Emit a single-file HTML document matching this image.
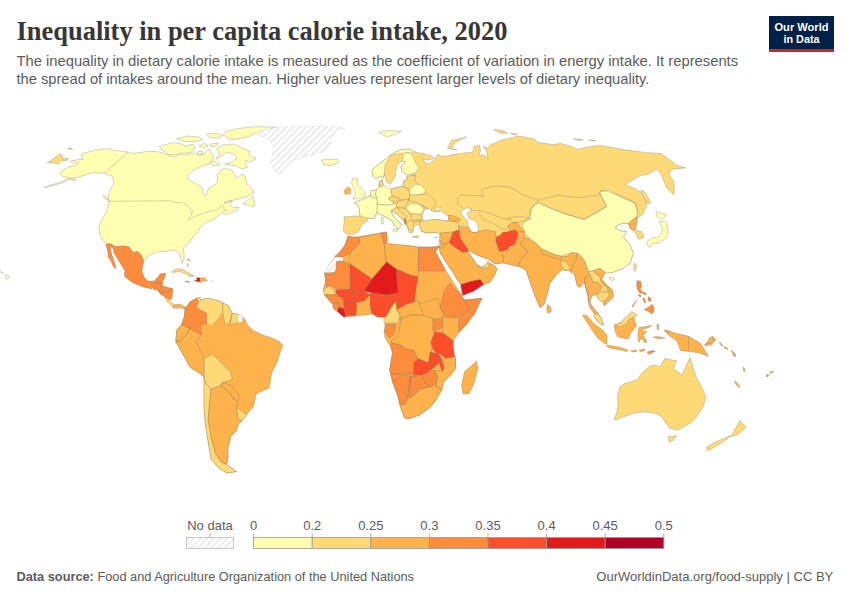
<!DOCTYPE html>
<html><head><meta charset="utf-8">
<style>
html,body{margin:0;padding:0;background:#fff;width:850px;height:600px;overflow:hidden}
svg{display:block}
text{font-family:"Liberation Sans",sans-serif}
</style></head><body>
<svg width="850" height="600" viewBox="0 0 850 600">
<defs>
<pattern id="hatch" patternUnits="userSpaceOnUse" width="4.7" height="4.7" patternTransform="rotate(45)">
<rect width="4.7" height="4.7" fill="#fff"/><rect width="2" height="4.7" fill="#ebebeb"/>
</pattern>
</defs>
<text x="16.5" y="40" font-family="Liberation Serif" font-weight="bold" font-size="27" fill="#373737" textLength="491" lengthAdjust="spacingAndGlyphs" style="font-family:'Liberation Serif',serif">Inequality in per capita calorie intake, 2020</text>
<text x="16.4" y="66" font-size="14.2" fill="#5b5b5b" textLength="721.7" lengthAdjust="spacingAndGlyphs">The inequality in dietary calorie intake is measured as the coefficient of variation in energy intake. It represents</text>
<text x="16.4" y="84.2" font-size="14.2" fill="#5b5b5b" textLength="633" lengthAdjust="spacingAndGlyphs">the spread of intakes around the mean. Higher values represent larger levels of dietary inequality.</text>
<rect x="769" y="16" width="65" height="36" fill="#002147"/>
<rect x="769" y="49" width="65" height="3" fill="#ce261e"/>
<text x="801.5" y="30.7" font-size="11.5" font-weight="bold" fill="#fff" text-anchor="middle" textLength="54" lengthAdjust="spacingAndGlyphs">Our World</text>
<text x="801.5" y="42.5" font-size="11.5" font-weight="bold" fill="#fff" text-anchor="middle" textLength="36" lengthAdjust="spacingAndGlyphs">in Data</text>
<g id="map" stroke="#6b6b6b" stroke-opacity="0.6" stroke-width="0.5" stroke-linejoin="round">
<path fill="#ffffb2" d="M81.2,154.8 L84.6,152.9 L95.9,150.1 L107.2,148.6 L112.8,150.1 L127.9,152 L132.6,153.5 L143,152 L150,151.1 L159.4,152 L167.9,154.8 L174.5,156.7 L180,154 L186,155 L193,153 L199,155 L204,154 L207,151 L209,149 L212,154 L214,157 L213,160 L209,164 L200,167 L192,171 L187,176 L189,180 L193,182 L200,186 L203,189 L203,194 L206,195 L209,188 L216,184 L218,180 L217,175 L221,170 L224,168.5 L232,170 L234,173 L236,178 L243,174 L245,176 L247,184 L252,189 L254,193 L246,197 L235,200 L228,201 L224,203 L232,201 L230,205 L233,208 L239,207 L237,210 L226,215 L223,212 L215,218 L214,220 L207,222 L200,228 L198.5,231.4 L192.9,237.1 L190,242 L183,248 L184,252 L184,260 L182,263.5 L181,260 L179,253 L175,250 L166.5,251.2 L157.1,252.1 L149.6,254.9 L144,261 L141,255 L138,251.5 L133,252.5 L129,247 L124,246 L115,246.5 L111,244 L106,244 L100.6,237.1 L98.8,227.6 L100.6,222 L106.3,212.6 L109.1,201.3 L108,196 L110.9,187.8 L113.8,184 L112.8,176.5 L107.2,174.6 L104.4,173.3 L94,172.7 L88.4,173.6 L80.8,176.5 L72.1,178.5 L58.3,184 L44.1,187.7 L45,187 L62.9,181.3 L70.3,177.6 L62.9,176.7 L60.2,173.9 L61.1,171.2 L67.5,167.5 L76.7,164.8 L78.5,162.9 L72.1,162.9 L70.3,161.1 L80.4,159.3 L83.1,159.7 L81.7,156.5Z"/>
<path fill="#ffffb2" d="M243,204 L250,198 L253,196 L254,202 L255,206 L252,207 L249,205Z"/>
<path fill="#ffffb2" d="M103,195 L107,198 L109,200.5 L105,199Z"/>
<path fill="#ffffb2" d="M159.4,146.4 L172.6,142.6 L180.1,143.5 L186,146 L193,144 L195,149 L190,153 L182,153 L176,154.5 L168.8,154.8 L161.3,149.2Z"/>
<path fill="#ffffb2" d="M217,148 L222,145 L234,144 L242,148 L250,151 L249,155 L256,158.5 L250,162 L246,160 L245,163 L248,167 L242,169 L236,166 L225,164 L232,162 L237,158 L234,154 L226,152 L220,157 L216,159 L220,154 L218,151Z"/>
<path fill="#ffffb2" d="M225.3,131.3 L238.5,128.5 L255.4,126.6 L277.1,127.2 L270.5,129.4 L255.4,133.2 L247.9,136.9 L238.5,138.8 L229.1,139.8 L225.3,136Z"/>
<path fill="#ffffb2" d="M206.5,134.1 L215.9,133.2 L223.4,135.1 L219.7,137.9 L210.2,137.9Z"/>
<path fill="#ffffb2" d="M176.4,138.8 L187.6,136 L198.9,136.9 L202.7,139.8 L195.2,141.6 L183.9,141.6Z"/>
<path fill="#ffffb2" d="M199,146 L205,143 L208,146 L204,148Z"/>
<path fill="#ffffb2" d="M210,144 L218,143 L216,146 L211,147Z"/>
<path fill="#ffffb2" d="M197,152 L202,151 L203,154 L199,155Z"/>
<path fill="#ffffb2" d="M209,163 L214,161 L220,165 L213,166Z"/>
<path fill="#fed976" d="M47.3,162.5 L51.9,159.7 L60.2,153.8 L62.9,156.1 L62,158.8 L67.5,158.3 L68,160.2 L62,160.6 L58.3,164.3 L53.8,162.9Z"/>
<path fill="url(#hatch)" stroke="#d0d0d0" d="M255.4,134.1 L262,130 L277.6,127.2 L299.5,126.2 L333.4,126.2 L345.4,128.4 L334.8,130.5 L333.4,136.8 L330.6,143.9 L322.1,152.4 L306.6,156.6 L292.5,160.8 L285.4,167.9 L281.2,173.5 L274.1,170.7 L270.6,160.8 L273.4,150.9 L272.4,144.5 L265.6,137.9Z"/>
<path fill="#ffffb2" d="M321.4,160.1 L326.4,159.4 L337.7,159.4 L338.4,162.9 L330.6,165.8 L323.5,164.4Z"/>
<path fill="#fd8d3c" d="M106,244 L111,244 L115,246.5 L124,246 L129,247 L133,252.5 L138,251.5 L141,255 L144,261 L143,265 L142,271 L144,277 L148,281 L154,281 L158,277 L160,274 L166,273 L164,279 L162,283 L156,283 L154,286 L152,289 L143,287 L133,283 L125,277 L124,274 L125,271 L120,263 L117,258 L114,253 L113,248 L110,247 L111,251 L112,255 L115,264 L116,269 L113,266 L111,261 L108,257 L108,253 L106,245Z"/>
<path fill="#fed976" d="M162,280 L163.5,279.5 L163,285 L161.8,285.5Z"/>
<path fill="#fd8d3c" d="M156,283 L162,283 L162,286 L161,288 L158,290.5 L153.5,289.5 L154,286Z"/>
<path fill="#fd8d3c" d="M160.7,286 L162.6,286 L166.4,286.9 L172.9,288.8 L168.2,291.6 L162.6,292.6 L158.8,290.7 L160.7,287.9Z"/>
<path fill="#fd8d3c" d="M157.9,290.7 L158.8,290.7 L162.6,292.6 L160.7,294.5Z"/>
<path fill="#fd8d3c" d="M162.6,292.6 L168.2,291.6 L172.9,288.8 L172,298.2 L169.2,300.1 L164.5,296.4 L160.7,294.5Z"/>
<path fill="#fed976" d="M164.5,296.4 L169.2,300.1 L173.9,304.8 L172.9,307.6 L167.3,302Z"/>
<path fill="#feb24c" d="M173.9,304.8 L179.5,303.9 L185.2,306.7 L185.2,309.5 L180.5,307.6 L175.8,308.6 L172.9,307.6Z"/>
<path fill="#fed976" d="M171.5,272 L176,269 L182,269 L187,272 L190,274 L194.5,276 L190,277 L186,274 L180,271.5 L173,272.5Z"/>
<path fill="#e31a1c" d="M194,281 L197,280 L196.5,277.5 L200,278 L200,282 L197,281.5Z"/>
<path fill="#feb24c" d="M200,278 L204,277.5 L207.5,280.5 L204,281 L200.5,282.5 L200,282Z"/>
<path fill="#feb24c" d="M185,281 L189,281 L189.5,282.5 L186,282Z"/>
<path fill="url(#hatch)" stroke="#d0d0d0" d="M210,280.5 L214,281 L213.5,282 L210,282Z"/>
<path fill="#fed976" d="M186.5,259 L190,259.5 L190.5,261 L188,260Z"/>
<path fill="#fed976" d="M187,263.5 L188,264 L188.5,266.5 L187.5,266Z"/>
<path fill="#ffffb2" d="M70.3,179 L73,178.5 L76.5,180 L73,181Z"/>
<path fill="#fed976" d="M67.5,148.5 L71,148 L72.5,149 L69,149.5Z"/>
<path fill="#feb24c" d="M185.2,308.6 L189.9,302 L196.5,298.2 L200.2,297.3 L200.2,300.1 L207.8,298.2 L219.1,301.1 L222.8,302.9 L228.5,305.8 L232.2,313.3 L237.9,314.2 L243.5,317.1 L247.3,324.6 L252.9,330.2 L262.4,334.9 L271.8,337.8 L279.3,341.5 L283.2,345.7 L281.2,349.1 L277.6,361.2 L271.9,372.5 L269.1,388.1 L256.3,393.8 L253.5,406.5 L246.4,415 L242.2,420.7 L237.9,419.3 L235.1,416.4 L237.9,424.9 L236.5,430.6 L230.9,436.2 L228,447.6 L228,458.9 L226.6,464.5 L236.5,471.6 L226.6,473 L218.1,467.4 L211,458.9 L208.2,441.9 L205.4,424.9 L204,407.9 L204,390.9 L204,376.8 L198.3,372.5 L189.8,366.9 L181.3,351.3 L175.7,341.4 L175.8,339.6 L176.7,330.2 L181.4,324.6 L184.2,317.1Z"/>
<path fill="#fd8d3c" d="M185.2,308.6 L189.9,302 L196.5,298.2 L198.4,301.1 L196.5,307.6 L206.8,313.3 L206.8,322.7 L200.2,326.5 L202.1,334.9 L196.5,332.1 L189.9,328.4 L181.4,324.6 L184.2,317.1Z"/>
<path fill="#fed976" d="M196.5,298.2 L200.2,297.3 L200.2,300.1 L207.8,298.2 L219.1,301.1 L222.8,302.9 L222.8,312.4 L215.3,322.7 L210.6,326.5 L206.8,322.7 L206.8,313.3 L196.5,307.6 L198.4,301.1Z"/>
<path fill="#fed976" d="M222.8,302.9 L228.5,305.8 L232.2,313.3 L228.5,324.6 L224.7,322.7 L222.8,312.4Z"/>
<path fill="#fed976" d="M232.2,313.3 L237.9,314.2 L237.9,322.7 L230.4,324.6Z"/>
<path fill="url(#hatch)" stroke="#d0d0d0" d="M237.9,314.2 L243.5,317.1 L241.5,322 L237.9,322.7Z"/>
<path fill="#feb24c" d="M181.4,324.6 L189.9,328.4 L187.1,334 L180.5,341.5 L175.8,339.6 L176.7,330.2Z"/>
<path fill="#fed976" d="M204,358.4 L212.5,354.2 L221,362.6 L230.9,372.5 L232.3,379.6 L222.4,382.5 L221,385.3 L211,389.5 L205.4,382.5 L204,376.8Z"/>
<path fill="#fed976" d="M204,376.8 L205.4,382.5 L211,389.5 L209.6,402.3 L208.2,419.3 L211,436.2 L215.3,453.2 L221,461.7 L226.6,464.5 L236.5,471.6 L226.6,473 L218.1,467.4 L211,458.9 L208.2,441.9 L205.4,424.9 L204,407.9 L204,390.9Z"/>
<path fill="#feb24c" d="M221,385.3 L222.4,382.5 L230.9,385.3 L239.3,395.2 L237.9,400.9 L233.7,399.4 L229.4,392.4Z"/>
<path fill="#fed976" d="M236.5,407.9 L242.2,410.8 L246.4,415 L242.2,420.7 L237.9,419.3Z"/>
<path fill="#feb24c" d="M211,389.5 L221,385.3 L229.4,392.4 L233.7,399.4 L237.9,400.9 L236.5,407.9 L237.9,419.3 L242.2,420.7 L237.9,424.9 L236.5,430.6 L230.9,436.2 L228,447.6 L228,458.9 L226.6,464.5 L221,461.7 L215.3,453.2 L211,436.2 L208.2,419.3 L209.6,402.3Z"/>
<path fill="#fed976" d="M371.9,170.4 L375.6,166.6 L382.2,161.9 L388.8,156.3 L396.4,151.6 L402.9,149.2 L409.5,149.2 L414.2,151.6 L417.1,152.5 L422.7,153.5 L430.2,155.4 L434,158.2 L428.4,160.1 L422.7,159.1 L425.5,162.9 L428.4,163.8 L432.1,161.9 L434.9,159.1 L437.8,154.4 L441.5,156.3 L445.3,156.3 L450,155.4 L451.3,154.8 L464.5,152.9 L472.9,152 L473.9,146.4 L479.5,145.4 L480.5,151.1 L478.6,154.8 L485.2,155.8 L488,159.5 L487.1,152 L483.3,146.4 L487.1,148.2 L490.8,144.5 L496.5,142.6 L502.1,139.8 L511.5,137.9 L517.2,136 L524.7,136.9 L534.1,138.8 L537.9,142.6 L552.9,144.5 L560.5,143.5 L571.8,146.4 L577.4,149.2 L590.6,146.4 L600,145.4 L624.9,149.8 L645.6,152.4 L661.2,153.6 L676.7,165.3 L685.7,167.9 L671.5,169.2 L668.9,174.3 L674.1,182.1 L674.1,195.1 L666.3,187.3 L661.2,174.3 L656,169.2 L648.2,174.3 L640.5,175.6 L624.9,184.7 L635.3,188.6 L645,196 L647,204 L643.3,214 L637.5,217.5 L636.7,223.3 L635,230 L641.7,231.7 L644.2,237.5 L638.3,239.2 L635.8,233.3 L630,228.3 L628.3,223.3 L621.7,223.3 L615,227.5 L620,230.8 L626.7,231.7 L623.3,236.7 L630,245 L633.3,253.3 L630,263.3 L623.3,268.3 L615,271.7 L607.1,273.2 L605,272.5 L601.7,279.2 L607.5,285.8 L612.5,290 L613.3,296.7 L608.3,301.7 L604.2,305.8 L603.3,302.5 L602.5,301.7 L599.2,300 L597.5,297.5 L597.5,294.2 L595,295 L592.5,295 L590.8,298.3 L590,302.5 L591.7,305.8 L595,310 L598.3,313.3 L598.8,314.4 L601.2,317.9 L603.5,325 L601.2,324.4 L596.5,320.3 L594.1,316.8 L594.2,313.3 L590,307.5 L588.3,301.7 L588.3,297 L584.4,281.7 L580.2,287.3 L577.3,285.9 L574.5,274.6 L571.7,273.2 L568.8,270.3 L564.6,270.3 L562.6,268.8 L555.1,276.4 L549.4,283.9 L547.5,293.3 L543.8,304.6 L540,307.4 L535,296 L530,282 L526,270 L520.2,267 L518.4,266.6 L503.3,262.8 L495,263.8 L488.9,259.5 L477,255 L469.4,250.8 L468.3,251.9 L472.7,258.4 L477,264.9 L481.3,267.6 L485.7,265.5 L487.8,261.7 L490,263.3 L495,266 L497,269 L494.3,275.8 L490,282.3 L483.5,284.4 L473.8,290.9 L462.9,295.3 L461.8,292 L460.8,284.4 L457.5,280.1 L453.2,272.5 L445.6,261.7 L440.2,253 L439.1,246.5 L439,240 L440,233 L435,232.3 L427.5,233 L421.5,231.5 L420,227.8 L420,224 L415.5,225.5 L412.5,228.5 L413.3,232.3 L409.5,233 L407.3,227 L406,223 L404,221 L400,217 L396,213 L391,211 L393,216 L399,222 L402,224 L400,227 L398,229 L395,226 L392,221 L386,217 L382,215 L379,214 L377,212 L374.2,218.8 L366.7,217.9 L367.6,220.7 L362,224.5 L358.2,232 L352.6,234.8 L346.9,233.9 L343.2,231.1 L344.1,222.6 L344.1,216.9 L354.5,216 L360.1,216 L359.2,208.5 L357.3,204.7 L354.5,202.8 L365.8,198.1 L370,196 L371,191 L376,190 L379,187 L378.9,185.5 L379.4,181.7 L382.2,179.8 L383.2,184.5 L381.3,186.4 L386,188.3 L391,189 L399,187 L402.9,186.4 L403.9,180.8 L407.6,178.9 L406.7,176.1 L407.6,177 L416.1,175.1 L415.2,174.2 L407.6,175.1 L402,171.4 L401.1,166.6 L404.8,162.9 L405.8,161.9 L402,161 L397.3,164.8 L395.4,171.4 L395.4,176.1 L392.6,180.8 L389.8,184.5 L386.9,182.6 L384.1,174.2 L383.2,177.9 L380.4,176.1 L375.6,178.9 L372.8,176.1Z"/>
<path fill="#ffffb2" d="M371.9,170.4 L375.6,166.6 L382.2,161.9 L388.8,156.3 L396.4,151.6 L402.9,149.2 L409.5,149.2 L414.2,151.6 L411.4,153.5 L407.6,152.5 L402.9,153.9 L398.2,153.5 L390.7,155.4 L385.1,164.8 L384.1,174.2 L383.2,177.9 L380.4,176.1 L375.6,178.9 L372.8,176.1Z"/>
<path fill="#ffffb2" d="M402.9,153.9 L407.6,152.5 L411.4,153.5 L413.3,157.2 L416.1,163.8 L418.9,167.6 L415.2,173.2 L407.6,175.1 L402,171.4 L401.1,166.6 L404.8,162.9 L405.8,161.9 L402,161 L402.9,157.2Z"/>
<path fill="#fed976" d="M406.7,176.1 L415.2,175.6 L415.2,180.8 L417.1,183.6 L414.2,186.4 L411.4,189.2 L405.8,188.3 L402.9,186.4 L403.9,180.8 L407.6,178.9Z"/>
<path fill="#fed976" d="M379.4,181.7 L382.2,179.8 L383.2,184.5 L381.3,186.4 L378.9,185.5Z"/>
<path fill="#ffffb2" d="M376,190 L379,187 L384,185.5 L391,189 L392,195 L389,199 L394,203 L391,205 L384,205 L377,204 L377,199 L375.5,195Z"/>
<path fill="#ffffb2" d="M371,191 L376,190 L375.5,195 L377,199 L373,197 L370,196Z"/>
<path fill="#ffffb2" d="M354.5,202.8 L365.8,198.1 L370,196 L373,197 L377,199 L377,204 L377.5,208 L377,212 L374.2,218.8 L366.7,217.9 L360.1,216 L359.2,208.5 L357.3,204.7Z"/>
<path fill="#ffffb2" d="M377,204 L384,205 L391,205 L396,203 L396.5,206 L395,208 L391,211 L393,216 L399,222 L402,224 L400,227 L398,229 L395,226 L392,221 L386,217 L382,215 L379,214 L377,212 L377.5,208Z"/>
<path fill="#ffffb2" d="M409,190 L415,184 L421,185 L426,191 L423,194 L416,195 L410,195Z"/>
<path fill="#ffffb2" d="M406.5,206.8 L410.3,203.8 L417.8,203.8 L423.8,207.5 L422.3,212.8 L419.3,214.3 L411,213.5 L406.5,209.8Z"/>
<path fill="#fed976" d="M391,189 L399,187 L402.9,186.4 L405.8,188.3 L409,190 L410,195 L409,199 L404,200 L398,198 L393,196.5 L392,195Z"/>
<path fill="#fed976" d="M388,198 L393,196.5 L398,198 L399,201 L394,202 L389,199Z"/>
<path fill="#fed976" d="M398,201 L404,200 L409,199 L407,204 L404,208 L398,208 L396,205Z"/>
<path fill="#fed976" d="M410,195 L416,195 L423,194 L428,194 L434,199 L436,203 L433,208 L430,211 L426,207 L422,205 L416,202 L409,201 L409,199Z"/>
<path fill="#fed976" d="M395,208 L404,208 L407,210 L410,214 L419,214 L422,217 L420,221 L413,223 L414,230 L410,231 L406,223 L404,221 L400,217 L396,213 L391,211Z"/>
<path fill="#fed976" d="M420,222 L423.8,221 L432,219.5 L438.8,219.5 L447,221 L456.8,221.8 L459,226.3 L459,230 L453,232 L450,232.3 L441,233.8 L435,232.3 L427.5,233 L421.5,231.5 L420,227.8Z"/>
<path fill="#ffffb2" d="M352.6,178.4 L357.3,178.4 L358.2,184.9 L364.8,191.5 L365.8,196.2 L360.1,198.1 L352.6,199.1 L355.4,194.4 L353.5,187.8 L351.6,183.1Z"/>
<path fill="#feb24c" d="M344.1,190.6 L347.9,186.8 L350.7,188.7 L350.7,193.4 L345.1,194.4Z"/>
<path fill="#fd8d3c" d="M404,219 L406,219 L406.5,223 L405,225 L404,222Z"/>
<path fill="#ffffb2" d="M381,217 L383,217 L383.5,224 L381.5,224Z"/>
<path fill="#ffffb2" d="M393,229 L398,229 L397,232 L393,231Z"/>
<path fill="#fed976" d="M413,236 L419,236 L418,237.5 L413,237.5Z"/>
<path fill="#ffffb2" d="M434.3,237.5 L437.3,236.8 L436.5,238.3Z"/>
<path fill="#ffffb2" d="M378.9,132.2 L388.4,130.4 L401.5,131.3 L395.9,134.1 L386.5,136.9Z"/>
<path fill="#fed976" d="M447.5,148.2 L451.3,140.7 L466.4,136.9 L455.1,142.6 L451.3,148.2 L456.9,150.1Z"/>
<path fill="#fed976" d="M493.6,129.4 L502.1,130.4 L507.8,133.2 L500.2,133.2Z"/>
<path fill="#fed976" d="M510.6,133.2 L517.2,134.1 L514.4,135.1Z"/>
<path fill="#fed976" d="M573.6,138.8 L583.1,139.8 L579.3,140.7Z"/>
<path fill="#fed976" d="M588.7,139.8 L596.2,140.7 L592,141Z"/>
<path fill="#fed976" d="M640.5,189.9 L645,192 L650.8,202.8 L648,204 L643,196Z"/>
<path fill="#ffffb2" d="M655.8,211.7 L660,212.5 L666.7,215 L663.3,218.3 L660,219.2 L656.7,216.7Z"/>
<path fill="#ffffb2" d="M659.2,221.7 L661.7,226.7 L662.5,231.7 L658.3,236.7 L651.7,238.3 L646.7,241.7 L647.5,245 L650,247.5 L653.3,243.3 L658.3,243.3 L663.3,240 L667.5,236.7 L668.3,231.7 L666.7,223.3 L664.2,220.8Z"/>
<path fill="#fed976" d="M634.2,263.3 L636.7,265 L635,271.7 L633.5,268Z"/>
<path fill="#ffffb2" d="M610,276.7 L614.2,278.3 L612.5,280.8 L609,279Z"/>
<path fill="#feb24c" d="M547.5,304.6 L550.4,306.5 L551.3,312.1 L547.5,313.1 L546.6,308.4Z"/>
<path fill="#ffffb2" d="M539.1,202.6 L548.5,207.3 L565.4,213.9 L584.2,219.5 L595.5,212.9 L606.8,206.4 L599.3,192.2 L600,191.7 L608.3,190 L623.3,198.3 L635,203.3 L637.5,211.7 L636.7,216.7 L628.3,223.3 L621.7,223.3 L615,227.5 L620,230.8 L626.7,231.7 L623.3,236.7 L630,245 L633.3,253.3 L630,263.3 L623.3,268.3 L615,271.7 L607.1,273.2 L605,272.5 L600,268.3 L593.3,270.8 L588.3,271.7 L584.4,260.4 L580.2,255.5 L577.3,253.3 L571.7,252.6 L561.7,256.2 L554.7,254.7 L541.9,249.1 L536.2,243.4 L529.2,238.5 L524,230.8 L522.1,225.2 L529.6,217.6 L532.5,206.4Z"/>
<path fill="#feb24c" d="M628.3,223.3 L636.7,216.7 L637.5,217.5 L636.7,223.3 L635,230 L630,228.3Z"/>
<path fill="#fc4e2a" d="M495.8,236.9 L499.3,235.7 L502.8,232.2 L507.5,231.7 L513.3,230.5 L515.1,229.3 L516.8,231.7 L524.4,231.7 L518,233.4 L517.4,237.5 L516.2,240.4 L515.1,244.5 L509.2,246.8 L507.5,251.5 L499.3,251.5 L497.6,246.2 L495.8,241.6Z"/>
<path fill="#feb24c" d="M458.8,226.2 L468.2,227.4 L471.8,232.1 L477.6,232.1 L484.7,229.7 L495.3,231.5 L495.8,236.9 L495.8,241.6 L497.6,246.2 L499.3,251.5 L504,257 L503.3,262.8 L495,263.8 L488.9,259.5 L477,255 L469.4,250.8 L468.3,249.8 L460,238 L459,233Z"/>
<path fill="#fc4e2a" d="M449,243 L453,232 L459,230 L460,238 L468.3,249.8 L467.3,251.9 L461.8,251.9 L452.1,245.4Z"/>
<path fill="#feb24c" d="M440,233 L453,232 L449,243 L443,244 L441,239Z"/>
<path fill="#feb24c" d="M440,240 L443,244 L449,243 L448.8,242.2 L452.1,245.4 L441.3,248.7 L441,248Z"/>
<path fill="#feb24c" d="M439.1,246.5 L441,248 L441.3,248.7 L448.8,242.2 L452.1,245.4 L461.8,251.9 L467.3,251.9 L468.3,251.9 L472.7,258.4 L477,264.9 L481.3,267.6 L485.7,265.5 L487.8,261.7 L490,263.3 L495,266 L497,269 L494.3,275.8 L490,282.3 L483.5,284.4 L473.8,290.9 L462.9,295.3 L461.8,292 L460.8,284.4 L457.5,280.1 L453.2,272.5 L445.6,261.7 L440.2,253Z"/>
<path fill="#fed976" d="M477,264.9 L481.3,267.6 L485.7,265.5 L487.8,261.7 L490,263.3 L487,268 L482,268.5Z"/>
<path fill="#e31a1c" d="M460.8,284.4 L471.6,281.2 L480.3,279.5 L483.5,284.4 L473.8,290.9 L462.9,295.3 L461.8,289.8Z"/>
<path fill="#feb24c" d="M516.5,230.8 L522.1,230.8 L524,232.7 L524.9,238.4 L520.2,244 L527.8,251.5 L520.2,260.9 L518.4,266.6 L503.3,262.8 L504,257 L501.4,251.5 L510.8,248.7 L516.5,242.1 L518.4,234.6Z"/>
<path fill="#feb24c" d="M523.5,237.7 L529.2,238.5 L536.2,243.4 L541.9,249.1 L554.7,254.7 L561.7,256.2 L567.4,256.5 L571.7,252.6 L577.3,253.3 L575.9,260.4 L571.7,267.5 L571.7,273.2 L568.8,270.3 L564.6,270.3 L562.6,268.8 L555.1,276.4 L549.4,283.9 L547.5,293.3 L543.8,304.6 L540,307.4 L535,296 L530,282 L526,270 L520.2,267 L518.4,266.6 L520.2,260.9 L527.8,251.5 L520.2,244 L524.9,238.4Z"/>
<path fill="#fed976" d="M560.3,260.4 L566,261.8 L570.2,267.5 L568.8,270.3 L564.6,270.3 L561.7,266.1Z"/>
<path fill="#feb24c" d="M577.3,253.3 L580.2,255.5 L584.4,260.4 L588.3,271.7 L590,275 L585,277.5 L585,281.7 L585.8,287.5 L588.3,294.2 L588.3,301.7 L588.3,297 L584.4,281.7 L580.2,287.3 L577.3,285.9 L574.5,274.6 L571.7,267.5 L575.9,260.4Z"/>
<path fill="#feb24c" d="M585,277.5 L590,275 L591.7,278.3 L593.3,282.5 L597.5,281.7 L601.7,285.8 L600,291.7 L597.5,294.2 L595,295 L592.5,295 L590.8,298.3 L590,302.5 L591.7,305.8 L595,310 L598.3,313.3 L594.2,313.3 L590,307.5 L588.3,301.7 L588.3,294.2 L585.8,287.5 L585,281.7Z"/>
<path fill="#fed976" d="M590,275 L588.3,271.7 L593.3,270.8 L596.7,274.2 L600,276.7 L601.7,283.3 L607.5,287.5 L608.3,291.7 L604.2,292.5 L601.7,285.8 L597.5,281.7 L593.3,282.5 L591.7,278.3Z"/>
<path fill="#feb24c" d="M593.3,270.8 L600,268.3 L605,272.5 L601.7,279.2 L607.5,285.8 L612.5,290 L613.3,296.7 L608.3,301.7 L604.2,305.8 L603.3,302.5 L606.7,299.2 L609.2,295 L608.3,291.7 L607.5,287.5 L601.7,283.3 L600,276.7 L596.7,274.2Z"/>
<path fill="#fed976" d="M597.5,294.2 L600,291.7 L604.2,292.5 L608.3,291.7 L609.2,295 L606.7,299.2 L602.5,301.7 L599.2,300 L597.5,297.5Z"/>
<path fill="#fed976" d="M594.1,313.2 L598.8,314.4 L601.2,317.9 L603.5,325 L601.2,324.4 L596.5,320.3 L594.1,316.8Z"/>
<path fill="#feb24c" d="M507.5,225.8 L512.2,222.9 L517.4,222.3 L520.3,227.6 L524.4,231.7 L516.8,231.7 L515.1,229.3 L509.8,231.1Z"/>
<path fill="#feb24c" d="M350.7,237.6 L357.3,236.7 L380.8,232.9 L386.5,232 L387.4,240.5 L384.6,245.2 L395.9,248 L405.3,245.2 L418.5,247.1 L431.6,247.1 L439.1,246.5 L435.3,251.9 L439.1,258.4 L444.5,268.2 L449.9,276.8 L455.3,285.5 L459.7,292 L461.8,295.3 L463,300 L470,299.5 L479.2,298.5 L482,298.5 L480,302 L474.4,313.3 L466.8,324.6 L459.3,332.1 L453.6,337.8 L451.8,347.2 L453.6,354.7 L455.5,359.5 L455.5,368.5 L451,374.5 L443.5,382 L442,389.5 L436,400 L430,407.5 L419.5,415 L409,418.8 L404.5,418 L400,406 L397.7,395.5 L392.5,382 L389.5,370 L392.5,352.8 L389.6,345.3 L384.9,337.8 L384,330.2 L386.8,326.5 L384.9,323.6 L384,317.1 L376.5,317.1 L372.7,314.2 L363.3,315.2 L353.9,316.1 L344.5,317.1 L338.8,309.5 L331.3,302.9 L325,296 L323.3,290 L324.2,286 L325.6,279.9 L324.6,273 L328.8,265.2 L334.3,256.9 L340,252 L345,245 L348,236Z"/>
<path fill="#fd8d3c" d="M348,236 L359,238 L360,243 L350,253 L343,256.9 L334.3,256.9 L340,252 L345,245Z"/>
<path fill="url(#hatch)" stroke="#d0d0d0" d="M334.3,256.9 L343,256.9 L343,261 L336.6,261.5 L335.6,272.5 L324.6,272.5 L328.8,265.2Z"/>
<path fill="#fd8d3c" d="M380.8,232.9 L386.5,232 L387.4,240.5 L384.6,248 L381.8,241.4Z"/>
<path fill="#fd8d3c" d="M418.5,247.1 L431.6,247.1 L439.1,246.5 L435.3,251.9 L439.1,258.4 L444.5,268.2 L444,271 L418,271Z"/>
<path fill="#feb24c" d="M359,238 L380.8,232.9 L384,243 L386,261 L396,269 L372,279 L350,264 L350,253 L360,243Z"/>
<path fill="#feb24c" d="M384,243 L404,245 L418.5,247.1 L418,277 L410,275 L396,269 L386,261Z"/>
<path fill="#fd8d3c" d="M440,307.3 L444.2,290.7 L449.9,283.2 L456,290 L461.8,295.3 L462.7,298 L470.7,308.7 L460,315.3 L453.3,319.3 L446.7,318Z"/>
<path fill="#fd8d3c" d="M462.7,298 L463,300 L470,299.5 L479.2,298.5 L482,298.5 L480,302 L474.7,314 L466.7,323.3 L458.7,332.7 L458.7,318 L470.7,308.7Z"/>
<path fill="#fd8d3c" d="M432.7,320 L442.7,319.3 L442.7,327.3 L434.7,331.3 L432,328.7Z"/>
<path fill="#fc4e2a" d="M432,334 L434.7,332 L442.7,332.7 L453.3,340.7 L453.3,347.3 L454.7,356.7 L445.3,358 L440,354 L437.5,353.5 L433.3,350 L430.7,342Z"/>
<path fill="#fc4e2a" d="M418,358.8 L428.5,362.5 L430,352 L437.5,353.5 L439,362.5 L434.5,367 L427,373 L421,375.3 L413.5,374.5 L413.5,362.5Z"/>
<path fill="#fc4e2a" d="M437.5,353.5 L440.5,356.5 L444.3,368.5 L442,371.5 L439,362.5Z"/>
<path fill="#fd8d3c" d="M391,343 L400,344.5 L406,349 L413.5,350.5 L418,358.8 L413.5,362.5 L413.5,374.5 L391,373.8 L389.5,370 L392.5,352.8Z"/>
<path fill="#fd8d3c" d="M421,375.3 L427,373 L434.5,370 L437.5,376 L436,383.5 L431.5,386.5 L425.5,383.5Z"/>
<path fill="#fd8d3c" d="M391,373.8 L410.5,376 L416.5,375.3 L410.5,377.5 L407.5,400 L405.3,404.5 L400,404.5 L397.7,395.5 L392.5,382Z"/>
<path fill="#fd8d3c" d="M410.5,377.5 L421,375.3 L425.5,383.5 L431.5,386.5 L419.5,389.5 L413.5,395.5 L409,398.5Z"/>
<path fill="#fd8d3c" d="M384.9,324.6 L395.3,324.6 L394.3,334 L389.6,337.8 L384.9,332.1Z"/>
<path fill="#fed976" d="M396,299 L396,309 L400,315 L398,323 L384,323 L384,317 L389,307Z"/>
<path fill="#fc4e2a" d="M396,269 L410,275 L418,277 L416,288.8 L414,305 L404,309 L397.2,309.5 L396,301 L398,293Z"/>
<path fill="#e31a1c" d="M372,279 L386.5,262.1 L396,269 L398,293 L386,295 L374,293 L364,291Z"/>
<path fill="#fc4e2a" d="M350,264 L372,279 L364,291 L352,293 L354,303 L343,304 L338.8,296.4 L336,293 L336,290 L350,289Z"/>
<path fill="#fd8d3c" d="M324.6,273.4 L335.6,272.5 L336.6,261.5 L343,261 L349.9,264.3 L350.3,288.1 L337,289 L330.6,285.4 L326,286.3 L325.6,279.9Z"/>
<path fill="#fed976" d="M323.3,290 L328.8,286.3 L333.3,289 L336.1,294.5 L326.9,296.4 L324.2,293.6Z"/>
<path fill="#fd8d3c" d="M324.7,294.5 L334.1,294.5 L338.8,296.4 L342.5,297.5 L343.75,300.4 L343.75,307.5 L342.5,308.75 L340.4,307.1 L339.2,306.25 L338.3,303.3 L336.25,302.5 L333.3,303.75 L331.3,302.9Z"/>
<path fill="#fd8d3c" d="M333.3,303.75 L336.25,302.5 L338.3,303.3 L339.2,306.25 L337,311.25 L333.75,309.2 L332.5,305.8Z"/>
<path fill="#e31a1c" d="M337,311.25 L339.2,307.1 L342.5,308.75 L344.2,308.3 L345.4,315.8 L344.2,317.5 L340.4,314.2Z"/>
<path fill="#fc4e2a" d="M344.2,302.5 L350,302.5 L352.1,303.3 L355.8,300.4 L356.7,305.8 L355.8,315.4 L349.6,315.8 L345,316.25 L345.4,315.8 L344.2,308.3 L343.75,307.5Z"/>
<path fill="#fc4e2a" d="M352,293 L364,291 L370,295 L364,301 L354,303Z"/>
<path fill="#fc4e2a" d="M370,293 L374,293 L386,295 L398,293 L396,301 L391.5,306.7 L386,317 L378,317 L371.8,313.3 L370,305Z"/>
<path fill="#feb24c" d="M442.7,316.7 L458.7,318 L458.7,332.7 L453.3,340.7 L442.7,332.7 L442.7,319.3Z"/>
<path fill="#feb24c" d="M461.5,385 L464.5,371.5 L473.5,364 L476.5,361 L478,368.5 L473.5,385 L469,394 L463,394Z"/>
<path fill="#feb24c" d="M582.4,315 L587.1,315.6 L594.1,323.8 L602.4,329.7 L607.1,335.6 L607.1,343.8 L604.7,343.8 L597.6,337.9 L591.8,329.7 L584.7,319.1Z"/>
<path fill="#feb24c" d="M605.9,345 L615.3,346.2 L621.2,347.4 L628.2,350.3 L627.1,351.5 L618.8,349.7 L609.4,347.9Z"/>
<path fill="#feb24c" d="M614.1,325 L618.8,323.8 L624.7,319.1 L630.6,315.6 L634.1,317.9 L636.5,326.2 L634.1,328.5 L630.6,333.2 L628.2,339.1 L622.4,337.9 L617.6,336.8 L615.3,332.1Z"/>
<path fill="#fed976" d="M615.3,324.4 L620,323.8 L624.7,317.9 L631.8,311.5 L637.6,315.6 L629.4,319.1 L625.9,325 L618.8,326.8Z"/>
<path fill="#feb24c" d="M638.8,327.4 L651.8,325.6 L648.2,327.9 L643.5,329.1 L642.4,332.1 L647.1,330.9 L643.5,335.6 L647.1,342.6 L644.7,342.6 L641.2,337.9 L638.8,342.6 L637.6,335.6Z"/>
<path fill="#feb24c" d="M657,324 L659,325 L658.5,330 L657,329Z"/>
<path fill="#feb24c" d="M653,337 L658,336.5 L665,338 L658,339Z"/>
<path fill="#feb24c" d="M664,330 L670,331 L673,334 L668,334.5Z"/>
<path fill="#feb24c" d="M631,350.5 L636,350 L637,351.5 L632,352Z"/>
<path fill="#feb24c" d="M639,350 L645,349 L644,351 L640,351.5Z"/>
<path fill="#fd8d3c" d="M647,352 L652,350.5 L655.5,351 L649,354.5Z"/>
<path fill="#feb24c" d="M665.4,330.5 L679.4,334 L688.7,336.3 L700.4,343.3 L708.6,356.2 L698.1,352.7 L688.7,351.5 L680.5,350.4 L677,341 L670,336.3Z"/>
<path fill="#feb24c" d="M710,337 L714,339 L710,343 L706,344Z"/>
<path fill="#fd8d3c" d="M637.3,280.4 L640.7,281.2 L641.5,285.8 L640.3,288.9 L642.6,291.9 L646.5,293.5 L645.7,295 L642.6,293.5 L639.6,292.7 L637.3,289.6 L636.5,285Z"/>
<path fill="#fd8d3c" d="M642.6,298.1 L644.9,298.8 L645.7,302.7 L644.2,302.7Z"/>
<path fill="#fd8d3c" d="M648,296.5 L651.1,298.8 L650.3,301.9 L648,300.4Z"/>
<path fill="#fd8d3c" d="M638.3,294.2 L641.1,295.5 L640.5,297 L638.5,296Z"/>
<path fill="#fd8d3c" d="M644.2,309.5 L649.5,306.5 L651.8,304.2 L653.7,306.5 L654.1,311.1 L651.8,314.1 L648,311.1 L644.9,310.3Z"/>
<path fill="#fd8d3c" d="M637.3,299.6 L632.7,307.2 L631.9,306.5 L636.5,300.4Z"/>
<path fill="#fed976" d="M614.2,418.3 L616.7,413.3 L618.3,403.3 L617.5,396.7 L620,386.7 L625,383.3 L636.7,380 L641.7,373.3 L650,365.8 L655,365 L660,366.7 L665,358.3 L668.3,359.2 L676.7,360.8 L673.3,368.3 L681.7,375 L685,368.3 L690,357.5 L693.3,368.3 L696.7,378.3 L701.7,386.7 L705.8,396.7 L703.3,406.7 L696.7,416.7 L690,423.3 L678.3,430 L670,428.3 L665,421.7 L661.7,416.7 L655,413.3 L645,411.7 L633.3,413.3 L620,418.3 L615,420Z"/>
<path fill="#fed976" d="M668.3,436.7 L676.7,435.8 L673.3,440 L669.2,442.5Z"/>
<path fill="#fed976" d="M730.7,436.7 L740.1,420.4 L745.9,427.4 L737.8,434.4Z"/>
<path fill="#fed976" d="M706.2,447.2 L716.7,441.4 L730.7,435.6 L727.2,439.1 L714.4,447.2 L707.4,450.8Z"/>
<path fill="#feb24c" d="M704.7,344 L710,343.3 L713.5,340.5 L711.5,336 L713,336.5 L716,340 L711,345 L705,345.8Z"/>
<path fill="#feb24c" d="M719,342 L721,343 L723,346 L721.5,346Z"/>
<path fill="#feb24c" d="M724,346.5 L728,348.5 L727.5,349.5 L724,348Z"/>
<path fill="#feb24c" d="M731,350 L734,352.5 L735.5,357 L733,355Z"/>
<path fill="#feb24c" d="M734,353.5 L736,355 L734.5,356Z"/>
<path fill="#feb24c" d="M743,367 L744.5,368 L745,372 L743.5,371Z"/>
<path fill="#feb24c" d="M734.5,381 L737,382.5 L740,386.5 L739,387.5 L735.5,384Z"/>
<path fill="#feb24c" d="M766,375 L768,374 L769,376 L766.5,377Z"/>
<path fill="#feb24c" d="M770,372 L773.5,371 L773,372.5 L770,373.5Z"/>
<path fill="#feb24c" d="M429.5,393 L432,392.5 L433,395 L430.5,396.5Z"/>
<path fill="#feb24c" d="M422,400 L426,398 L428,401 L424.5,403Z"/>
<path fill="#ffffb2" d="M5.5,275.5 L8,275 L9,277.5 L7,279 L5,278Z"/>
<path fill="#ffffb2" d="M1,272 L3,272.5 L2.5,273.5Z"/>
<path fill="#ffffb2" d="M-1,270 L0.5,270.5 L0,271.5Z"/>
<path fill="#feb24c" d="M187.1,334 L189.9,328.4 L196.5,332.1 L202.1,334.9 L196,341 L200,350 L204,358.4 L204,376.8 L198.3,372.5 L189.8,366.9 L181.3,351.3 L175.7,341.4 L180.5,341.5Z"/>
<path fill="#feb24c" d="M414.7,299.3 L420,303.3 L426.7,302 L437.3,298 L440,307.3 L444,316.7 L432,319.3 L426.7,319.3 L420,315.3Z"/>
<path fill="#feb24c" d="M397.2,309.5 L406.6,303.9 L414.1,302 L417.9,300.1 L423.5,315.2 L410.4,315.2 L400.9,319 L400.9,317.1Z"/>
<path fill="#feb24c" d="M400.9,319 L410.4,315.2 L423.5,315.2 L432.9,318.9 L432.9,331.2 L434.8,332.1 L431.1,341.5 L431.5,352 L430,352 L428.5,362.5 L418,358.8 L413.5,350.5 L406,349 L400,344.5 L391,343 L392,340 L395.3,339.6 L399.1,332.1Z"/>
<path fill="#feb24c" d="M443.5,359.5 L455.5,356.5 L455.5,368.5 L451,374.5 L443.5,382 L442,389.5 L436,386.5 L437.5,376 L434.5,370 L442,371.5 L444.3,368.5Z"/>
<path fill="#feb24c" d="M407.5,400 L410.5,377.5 L409,398.5 L413.5,395.5 L419.5,389.5 L431.5,386.5 L436,383.5 L436,386.5 L442,389.5 L436,400 L430,407.5 L419.5,415 L409,418.8 L404.5,418 L400,406 L400,404.5 L405.3,404.5Z"/>
<path fill="#fff" d="M422.3,214.3 L426,208.3 L430.5,209 L432,211.3 L435.8,212 L441,211.3 L445.5,214.3 L450,217.3 L447,221 L438.8,219.5 L432,219.5 L424.5,221 L422.3,218.8Z"/>
<path fill="#fff" d="M460.6,212.1 L465.9,207.9 L471.8,208.5 L470.6,210.9 L467.1,213.2 L469.4,219.1 L474.1,220.3 L476.5,222.6 L478.8,227.4 L477.6,232.1 L471.8,232.1 L468.2,226.2 L467.1,220.3 L462.4,215.6Z"/>
<path fill="#fff" d="M435,208.3 L440.3,206.8 L439.5,209.8 L436.5,210.5Z"/>
<path fill="#feb24c" d="M448,215.5 L453,215.5 L461,219.5 L458,222 L451,221 L448.5,219.5Z"/>
<path fill="none" d="M109.1,201.3 L171.3,200.8 L172.2,201.8 L183.5,203.2 L188.2,206 L192.5,211.2 L191,215.4 L187.8,220.1 L197.6,215.4 L209,211.6 L216.5,209.8 L222.1,205.5 L224,207 L224,210.7 L227.8,210.7"/>
<path fill="none" d="M127.9,152 L104.4,173.3"/>
<path fill="none" d="M463.5,208.5 L457.6,203.8 L457.6,197.9 L461.2,195 L470.6,195.6 L478.8,195.6 L483.5,196.8 L481.2,189.7 L495.3,185.6 L510.6,187.4 L522.4,194.4 L537.6,200.3 L557.6,195.1 L578.3,197.6 L599,195.1 L601.6,189.9 L619.8,195.1 L635.3,202.8 L637.9,213.2"/>
<path fill="none" d="M470.6,210.9 L480,210.3 L489.4,213.2 L498.8,216.8 L505.9,219.1 L512.9,216.8 L522.4,216.8 L530.6,219.1 L529.4,209.7 L537.6,202.6 L537.6,200.3"/>
<path fill="none" d="M478.8,212.1 L482.4,219.1 L491.8,222.6 L501.2,228.5 L507.1,229.7"/>
<path fill="none" d="M505.9,219.1 L510.6,219.1 L512.9,222.6 L522.4,221.5 L530.6,219.1"/>
<path fill="none" d="M539.1,202.6 L548.5,207.3 L565.4,213.9 L584.2,219.5 L595.5,212.9 L606.8,206.4 L599.3,192.2"/>
<path fill="none" d="M688.7,336.3 L688.7,351.5"/>
<path fill="none" d="M412.5,221 L420,221 L423,219.5"/>
<path fill="none" d="M398,209 L403,213 L407,217 L404,219"/>
<path fill="none" d="M410,214 L412,218 L410,221 L416,220 L420,219"/>
<path fill="none" d="M404,219 L406,223 L410,221"/>
<path fill="none" d="M422,205 L425,209 L428,208"/>
<path fill="none" d="M541.9,249.1 L541.9,254 L560.3,259.7 L561.7,256.2"/>
</g><g font-size="13" fill="#5b5b5b">
<text x="210" y="530" text-anchor="middle">No data</text>
<rect x="186.5" y="537.5" width="47" height="11" fill="url(#hatch)" stroke="#bbb" stroke-width="0.8"/>
<g stroke="#999" stroke-width="0.8">
<rect x="253.6" y="537.5" width="58.6" height="11" fill="#ffffb2"/>
<rect x="312.2" y="537.5" width="58.6" height="11" fill="#fed976"/>
<rect x="370.8" y="537.5" width="58.6" height="11" fill="#feb24c"/>
<rect x="429.4" y="537.5" width="58.6" height="11" fill="#fd8d3c"/>
<rect x="488" y="537.5" width="58.6" height="11" fill="#fc4e2a"/>
<rect x="546.6" y="537.5" width="58.6" height="11" fill="#e31a1c"/>
<rect x="605.2" y="537.5" width="58.6" height="11" fill="#b10026"/>
</g>
<g stroke="#999" stroke-width="0.8"><line x1="210" y1="533.5" x2="210" y2="537.5"/><line x1="253.6" y1="533.5" x2="253.6" y2="537.5"/><line x1="312.2" y1="533.5" x2="312.2" y2="537.5"/><line x1="370.8" y1="533.5" x2="370.8" y2="537.5"/><line x1="429.4" y1="533.5" x2="429.4" y2="537.5"/><line x1="488" y1="533.5" x2="488" y2="537.5"/><line x1="546.6" y1="533.5" x2="546.6" y2="537.5"/><line x1="605.2" y1="533.5" x2="605.2" y2="537.5"/><line x1="663.8" y1="533.5" x2="663.8" y2="537.5"/></g>
<text x="253.6" y="530" text-anchor="middle">0</text>
<text x="312.2" y="530" text-anchor="middle">0.2</text>
<text x="370.8" y="530" text-anchor="middle">0.25</text>
<text x="429.4" y="530" text-anchor="middle">0.3</text>
<text x="488" y="530" text-anchor="middle">0.35</text>
<text x="546.6" y="530" text-anchor="middle">0.4</text>
<text x="605.2" y="530" text-anchor="middle">0.45</text>
<text x="663.8" y="530" text-anchor="middle">0.5</text>
</g>
<text x="16.5" y="581" font-size="13" fill="#5b5b5b" textLength="397.5" lengthAdjust="spacingAndGlyphs"><tspan font-weight="bold">Data source:</tspan> Food and Agriculture Organization of the United Nations</text>
<text x="596.3" y="581" font-size="13" fill="#5b5b5b" textLength="237" lengthAdjust="spacingAndGlyphs">OurWorldinData.org/food-supply | CC BY</text>
</svg>
</body></html>
